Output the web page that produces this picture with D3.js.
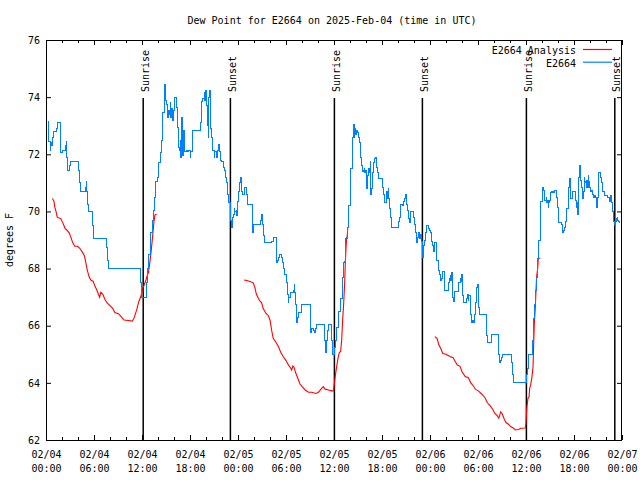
<!DOCTYPE html>
<html><head><meta charset="utf-8">
<script src="https://cdn.jsdelivr.net/npm/d3@7"></script>
<style>
body{margin:0;background:#fff}
svg{display:block;background:#fff}
text{font-family:"DejaVu Sans Mono",monospace;font-size:10px;fill:#000}
</style>
</head><body><svg id="c" width="640" height="480"></svg>
<script>
// ---------------- data ----------------
const chartTitle = "Dew Point for E2664 on 2025-Feb-04 (time in UTC)";
const yAxisLabel = "degrees F";
const seriesNames = ["E2664 Analysis", "E2664"];
const seriesColors = ["#ff0000", "#0080ff"];
const startUTC = Date.UTC(2025, 1, 4, 0, 0);
const endUTC = Date.UTC(2025, 1, 7, 0, 0);
const yTickValues = [62, 64, 66, 68, 70, 72, 74, 76];
const sunriseHours = [12.15, 36.05, 60.05];   // hours after 02/04 00:00 UTC
const sunsetHours = [23.05, 47.05, 71.1];

// observed dew point E2664: [hours after start, deg F]
const dewPoints = [
[0.25,73.15],[0.3,72.45],[0.5,72.15],[0.6,72.4],[0.7,72.3],[0.8,72.6],[0.95,72.8],[1.25,72.9],[1.45,73.1],[1.75,72.55],
[1.8,72.05],[2.1,72.15],[2.4,72.3],[2.5,72.45],[2.6,71.9],[2.7,71.45],[2.9,71.6],[3.0,71.75],[4.1,71.45],[4.2,71.0],
[4.3,70.7],[4.9,70.85],[5.0,71.05],[5.1,70.7],[5.15,70.25],[5.3,70.0],[5.8,69.5],[5.9,69.05],[7.55,68.75],[7.65,68.3],
[7.75,68.0],[11.8,67.5],[11.9,67.0],[12.6,67.5],[12.7,68.0],[12.75,68.5],[13.0,68.85],[13.1,69.25],[13.25,69.7],[13.4,70.05],
[13.5,70.5],[13.65,71.05],[13.9,71.2],[14.05,71.7],[14.25,72.05],[14.4,72.5],[14.6,73.45],[14.75,74.15],[14.85,74.45],[14.9,73.9],
[15.05,73.75],[15.15,73.3],[15.3,73.55],[15.4,73.4],[15.5,73.8],[15.6,73.3],[15.7,73.6],[15.85,73.2],[15.9,73.55],[16.05,73.7],
[16.1,74.0],[16.25,73.65],[16.4,72.95],[16.6,72.25],[16.65,72.15],[16.75,72.5],[16.85,71.9],[16.9,73.3],[17.0,72.75],[17.1,71.95],
[17.15,72.85],[17.25,72.3],[17.35,72.1],[17.5,72.15],[17.65,72.1],[17.85,72.15],[18.0,71.9],[18.1,72.1],[18.25,72.6],[18.35,72.85],
[19.35,73.1],[19.45,73.85],[19.6,73.95],[19.75,74.15],[19.85,73.9],[19.95,74.25],[20.1,73.7],[20.15,73.0],[20.3,72.6],[20.35,74.0],
[20.4,74.25],[20.5,73.5],[20.6,72.9],[20.65,72.6],[20.85,72.15],[21.0,71.9],[21.1,72.1],[21.25,71.9],[21.4,72.15],[21.55,72.35],
[21.65,72.1],[21.75,71.8],[21.95,71.75],[22.15,71.55],[22.35,71.45],[22.4,71.2],[22.6,71.0],[22.7,70.6],[22.85,70.3],[23.0,69.9],
[23.1,69.7],[23.2,69.45],[23.3,69.8],[23.45,69.9],[23.5,70.1],[23.6,70.0],[23.75,70.05],[23.85,69.85],[23.9,70.35],[24.05,70.7],
[24.15,71.0],[24.3,71.2],[24.4,70.7],[24.55,70.6],[24.85,70.85],[25.1,70.6],[25.2,70.25],[25.8,69.25],[25.9,69.55],[26.75,69.65],
[26.85,69.7],[26.95,69.9],[27.1,69.55],[27.2,69.15],[27.3,68.9],[28.2,68.95],[28.4,69.1],[28.8,68.2],[28.9,68.3],[29.05,68.4],
[29.15,68.5],[29.45,68.4],[29.6,68.2],[29.65,68.0],[29.75,67.8],[30.1,67.5],[30.15,67.1],[30.3,66.8],[30.35,67.0],[30.5,67.15],
[30.9,67.25],[31.0,67.45],[31.1,67.15],[31.15,66.75],[31.25,66.45],[31.35,66.1],[31.4,66.3],[31.55,66.45],[31.95,66.75],[33.0,66.2],
[33.1,65.75],[33.15,65.9],[33.4,65.85],[33.55,65.75],[33.65,65.9],[33.85,66.05],[34.85,65.5],[34.95,65.05],[35.05,65.5],[35.15,65.85],
[35.3,66.05],[35.7,65.5],[35.8,65.0],[36.1,65.25],[36.2,65.5],[36.35,65.95],[36.6,66.5],[36.75,66.95],[37.0,67.35],[37.1,67.7],
[37.2,68.2],[37.35,68.25],[37.4,69.05],[37.65,69.45],[37.75,70.05],[37.85,70.2],[38.0,70.75],[38.1,71.5],[38.25,72.5],[38.35,72.6],
[38.4,73.05],[38.5,72.6],[38.6,72.9],[38.65,72.7],[38.8,72.85],[38.9,72.75],[39.05,72.6],[39.15,72.4],[39.25,72.25],[39.35,71.9],
[39.45,71.6],[39.6,71.4],[39.65,71.45],[39.8,71.5],[39.85,71.35],[39.95,71.45],[40.1,70.8],[40.2,71.25],[40.35,71.5],[40.4,71.35],
[40.55,71.75],[40.6,70.6],[40.7,70.8],[40.8,71.35],[40.9,71.7],[41.05,71.85],[41.15,71.9],[41.25,71.8],[41.35,71.55],[41.45,71.35],
[41.6,71.15],[42.05,70.85],[42.15,70.6],[42.3,70.45],[42.35,70.3],[42.5,70.45],[42.6,70.7],[42.65,70.45],[42.75,70.8],[42.85,70.45],
[42.9,70.1],[43.05,69.8],[43.15,69.45],[44.05,69.65],[44.15,69.8],[44.3,70.15],[44.35,70.25],[44.6,70.2],[44.65,70.35],[44.8,70.45],
[44.9,70.6],[45.0,70.35],[45.1,70.25],[45.2,70.05],[45.35,69.75],[45.4,69.6],[45.5,69.9],[45.6,70.0],[45.9,69.8],[46.05,69.55],
[46.15,69.25],[46.25,69.05],[46.35,68.9],[46.4,69.1],[46.55,69.25],[46.65,69.05],[46.75,69.2],[46.85,69.2],[46.95,68.95],[47.05,68.6],
[47.1,68.4],[47.2,68.8],[47.3,69.0],[47.4,69.25],[47.5,69.4],[47.6,69.5],[47.8,69.4],[47.9,69.35],[48.05,69.25],[48.15,68.95],
[48.3,68.8],[48.4,68.6],[48.55,68.9],[48.7,68.9],[48.75,68.6],[48.85,68.3],[49.0,68.25],[49.1,67.95],[49.2,67.8],[49.3,67.6],
[49.4,67.65],[49.5,67.9],[49.75,67.6],[49.85,67.25],[50.3,67.5],[50.4,67.65],[50.5,67.75],[50.6,67.6],[50.65,67.85],[50.75,67.25],
[50.85,67.0],[50.9,66.85],[51.0,67.05],[51.1,67.2],[51.5,67.4],[51.6,67.5],[51.75,67.65],[51.85,67.55],[51.9,67.8],[52.0,67.5],
[52.1,67.05],[52.15,66.8],[52.6,66.95],[52.7,67.1],[52.8,66.9],[52.85,67.05],[53.0,66.85],[53.1,66.4],[53.2,66.1],[53.35,66.2],
[53.45,66.1],[53.6,66.4],[53.65,66.8],[53.75,67.35],[53.95,67.45],[54.05,67.0],[54.1,66.65],[54.2,66.4],[55.0,66.1],[55.1,65.65],
[55.15,65.4],[55.7,65.7],[56.55,65.35],[56.6,65.0],[56.7,64.7],[56.8,64.8],[56.9,64.9],[57.0,65.0],[58.2,64.7],[58.3,64.3],
[58.4,64.0],[60.1,64.3],[60.2,64.5],[60.35,65.0],[60.8,65.5],[60.95,66.25],[61.05,66.75],[61.15,67.25],[61.3,67.7],[61.45,68.35],
[61.6,69.0],[61.85,70.35],[62.0,70.75],[62.1,70.85],[62.15,70.75],[62.25,70.5],[62.35,70.4],[62.55,70.5],[62.6,70.3],[62.7,70.4],
[62.8,70.15],[62.85,70.3],[62.95,70.4],[63.05,70.65],[63.15,70.7],[63.25,70.65],[63.35,70.7],[63.4,70.65],[63.55,70.7],[63.6,70.75],
[63.75,70.65],[63.85,70.5],[63.9,70.15],[64.0,69.9],[64.1,69.6],[64.4,69.55],[64.5,69.45],[64.6,69.25],[64.7,69.35],[64.8,69.45],
[64.9,69.65],[65.05,69.7],[65.1,70.1],[65.25,70.45],[65.35,70.85],[65.45,71.15],[65.55,70.45],[65.75,70.7],[66.2,70.4],[66.3,70.15],
[66.35,70.3],[66.45,69.9],[66.55,71.2],[66.65,71.6],[66.75,71.35],[66.85,71.1],[66.9,70.85],[67.05,70.75],[67.1,70.45],[67.2,70.7],
[67.3,71.2],[67.35,71.0],[67.45,71.05],[67.55,70.85],[67.6,71.1],[67.7,70.85],[67.8,71.25],[67.85,71.05],[67.95,70.85],[68.1,70.7],
[68.15,70.75],[68.25,70.7],[68.35,70.6],[68.45,70.5],[68.6,70.55],[68.7,70.5],[68.8,70.4],[68.85,70.15],[68.95,70.5],[69.05,71.0],
[69.1,71.35],[69.35,71.2],[69.4,71.0],[69.5,70.85],[69.6,70.7],[69.8,70.55],[70.15,70.5],[70.4,70.4],[70.45,70.35],[70.55,70.55],
[70.7,70.3],[70.8,70.2],[70.85,70.0],[70.95,69.65],[71.1,69.55],[71.2,69.65],[71.3,69.75],[71.4,69.8],[71.45,69.7],[71.6,69.65],
[71.7,69.6],[71.75,69.6]
];

// analysis dew point, three runs: [hours after start, deg F]
const analysisRun1 = [
[0.8,70.45],[1.0,70.35],[1.1,70.15],[1.25,70.0],[1.4,69.8],[1.55,69.78],[1.85,69.75],[2.1,69.6],[2.4,69.4],[2.6,69.35],
[2.9,69.25],[3.1,69.1],[3.35,68.9],[3.6,68.78],[3.95,68.78],[4.25,68.7],[4.6,68.55],[4.8,68.45],[4.95,68.25],[5.15,67.95],
[5.4,67.7],[5.6,67.6],[5.9,67.55],[6.1,67.4],[6.35,67.25],[6.55,67.1],[6.7,67.0],[6.85,67.17],[7.1,67.1],[7.4,66.9],
[7.7,66.78],[8.0,66.7],[8.35,66.6],[8.6,66.46],[9.05,66.42],[9.4,66.32],[9.75,66.2],[10.3,66.18],[10.8,66.16],[11.05,66.3],
[11.35,66.57],[11.6,66.84],[11.85,67.02],[12.1,67.3],[12.3,67.45],[12.5,67.6],[12.7,67.8],[12.8,67.85],[13.0,68.25],[13.12,68.55],
[13.25,68.9],[13.38,69.3],[13.5,69.65],[13.62,69.88],[13.83,69.9]
];
const analysisRun2 = [
[24.75,67.6],[25.1,67.58],[25.5,67.55],[25.9,67.5],[26.1,67.35],[26.3,67.1],[26.65,66.9],[26.95,66.8],[27.15,66.6],[27.5,66.43],
[27.8,66.35],[28.0,66.2],[28.2,65.85],[28.4,65.56],[28.7,65.44],[29.05,65.27],[29.35,65.06],[29.65,64.92],[30.0,64.78],[30.3,64.63],
[30.6,64.51],[30.7,64.45],[30.85,64.59],[31.0,64.55],[31.2,64.36],[31.45,64.18],[31.75,63.96],[32.1,63.84],[32.4,63.75],[32.8,63.67],
[33.2,63.67],[33.75,63.63],[34.05,63.67],[34.35,63.77],[34.65,63.87],[34.9,63.78],[35.3,63.75],[35.7,63.72],[35.95,63.72],[36.0,63.87],
[36.15,64.22],[36.33,64.57],[36.54,64.92],[36.67,65.06],[36.83,65.1],[36.96,65.5],[37.08,66.2],[37.21,66.78],[37.33,67.48],[37.42,68.24],
[37.5,68.71],[37.58,69.06],[37.67,69.18],[37.71,69.44],[37.9,69.44]
];
const analysisRun3 = [
[48.6,65.62],[48.9,65.55],[49.1,65.33],[49.35,65.2],[49.6,65.03],[50.0,65.0],[50.5,64.92],[50.9,64.88],[51.15,64.75],[51.4,64.63],
[51.75,64.58],[52.0,64.39],[52.4,64.22],[52.8,64.18],[53.1,64.0],[53.4,63.9],[53.7,63.77],[54.05,63.72],[54.45,63.61],[54.9,63.47],
[55.15,63.31],[55.5,63.2],[55.85,63.07],[56.1,62.93],[56.4,62.85],[56.6,62.76],[56.85,62.99],[57.05,62.9],[57.3,62.72],[57.5,62.61],
[57.8,62.55],[58.1,62.47],[58.4,62.42],[58.7,62.35],[59.05,62.37],[59.35,62.41],[59.9,62.42],[60.0,62.58],[60.05,62.88],[60.12,63.17],
[60.25,63.46],[60.38,63.5],[60.46,63.81],[60.58,63.92],[60.75,64.22],[60.88,64.57],[60.96,65.38],[61.04,66.08],[61.17,66.67],[61.25,67.25],
[61.33,67.72],[61.46,68.0],[61.54,68.36],[61.8,68.36]
];
const analysisRuns = [analysisRun1, analysisRun2, analysisRun3];

// ---------------- drawing ----------------
const W = 640, H = 480;
const M = {left: 46, top: 40, right: 18, bottom: 40};
const iw = W - M.left - M.right, ih = H - M.top - M.bottom;
const hrs = h => new Date(startUTC + h * 3600e3);

const svg = d3.select("#c");
svg.append("rect").attr("width", W).attr("height", H).attr("fill", "#fff");

const x = d3.scaleUtc().domain([new Date(startUTC), new Date(endUTC)]).range([M.left, M.left + iw]);
const y = d3.scaleLinear().domain([62, 76]).range([M.top + ih, M.top]);

// title
svg.append("text").attr("x", 332).attr("y", 24).attr("text-anchor", "middle").text(chartTitle);
// y axis label
svg.append("text").attr("transform", "translate(13,240) rotate(-90)").attr("text-anchor", "middle").text(yAxisLabel);

// sunrise / sunset lines
const sunEvents = sunriseHours.map(h => ({h, label: "Sunrise"})).concat(sunsetHours.map(h => ({h, label: "Sunset"})));
const sunG = svg.append("g");
sunEvents.forEach(ev => {
  const sx = x(hrs(ev.h));
  sunG.append("line").attr("x1", sx).attr("x2", sx).attr("y1", 98).attr("y2", M.top + ih)
    .attr("stroke", "#000").attr("stroke-width", 1.5);
  sunG.append("text").attr("transform", `translate(${sx + 5.5},92) rotate(-90)`).text(ev.label);
});

// series
const lineGen = d3.line().x(d => x(hrs(d[0]))).y(d => y(d[1]));
const redG = svg.append("g");
analysisRuns.forEach(run => {
  redG.append("path").attr("d", lineGen(run)).attr("fill", "none")
    .attr("stroke", seriesColors[0]).attr("stroke-width", 1.1);
});
svg.append("path").attr("d", lineGen.curve(d3.curveStepAfter)(dewPoints)).attr("fill", "none")
  .attr("stroke", seriesColors[1]).attr("stroke-width", 1).attr("shape-rendering", "crispEdges");

// axes
const fmtDate = d3.utcFormat("%m/%d"), fmtTime = d3.utcFormat("%H:%M");
const bottomMajor = svg.append("g").attr("transform", `translate(0,${M.top + ih})`)
  .call(d3.axisBottom(x).ticks(d3.utcHour.every(6)).tickSize(-5).tickSizeOuter(0));
bottomMajor.selectAll(".tick text").each(function(d) {
  const t = d3.select(this);
  t.text(null).attr("y", null).attr("dy", null);
  t.append("tspan").attr("x", 0).attr("y", 17.5).text(fmtDate(d));
  t.append("tspan").attr("x", 0).attr("y", 31.5).text(fmtTime(d));
});
svg.append("g").attr("transform", `translate(0,${M.top + ih})`)
  .call(d3.axisBottom(x).ticks(d3.utcHour.every(2)).tickSize(-3).tickFormat(""));
svg.append("g").attr("transform", `translate(0,${M.top})`)
  .call(d3.axisTop(x).ticks(d3.utcHour.every(6)).tickSize(-5).tickFormat(""));
svg.append("g").attr("transform", `translate(0,${M.top})`)
  .call(d3.axisTop(x).ticks(d3.utcHour.every(2)).tickSize(-3).tickFormat(""));
svg.append("g").attr("transform", `translate(${M.left},0)`)
  .call(d3.axisLeft(y).tickValues(yTickValues).tickFormat(d3.format("d")).tickSize(-5).tickPadding(6));
svg.append("g").attr("transform", `translate(${M.left + iw},0)`)
  .call(d3.axisRight(y).tickValues(yTickValues).tickSize(-5).tickFormat(""));
svg.selectAll(".domain").remove();
svg.selectAll(".tick line").attr("stroke", "#000");
svg.selectAll(".tick text").attr("font-family", null).attr("font-size", null).attr("fill", "#000");

// frame
svg.append("rect").attr("x", M.left + 0.5).attr("y", M.top + 0.5).attr("width", iw - 1).attr("height", ih)
  .attr("fill", "none").attr("stroke", "#000").attr("stroke-width", 1);

// legend
const legend = svg.append("g");
seriesNames.forEach((name, i) => {
  const ly = 50 + i * 12.7;
  legend.append("text").attr("x", 576).attr("y", ly + 4).attr("text-anchor", "end").text(name);
  legend.append("line").attr("x1", 583).attr("x2", 612).attr("y1", ly - 0.5).attr("y2", ly - 0.5)
    .attr("stroke", seriesColors[i]).attr("stroke-width", 1.2);
});
</script>
</body></html>
